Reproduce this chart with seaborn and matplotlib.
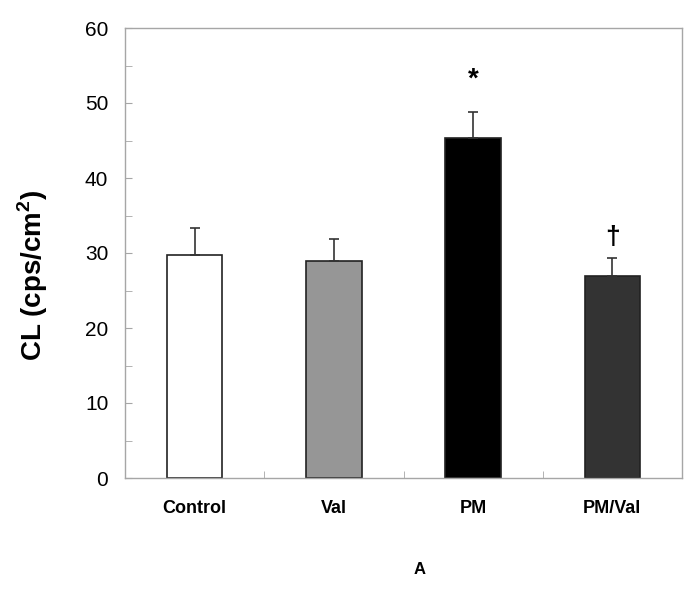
import matplotlib
matplotlib.use("Agg")
import matplotlib.pyplot as plt
from matplotlib.ticker import MultipleLocator
import numpy as np
import pandas as pd
import seaborn as sns

# values
groups = ["Control", "Val", "PM", "PM/Val"]
means = [29.7, 29.0, 45.4, 27.0]
sem = [3.7, 2.9, 3.4, 2.3]
marks = ["", "", "*", "\u2020"]
colors = ["#ffffff", "#969696", "#000000", "#333333"]

sns.set_style("white")
plt.rcParams["font.family"] = ["Liberation Sans", "DejaVu Sans"]
plt.rcParams["text.color"] = "black"
plt.rcParams["axes.labelcolor"] = "black"
plt.rcParams["mathtext.fontset"] = "custom"
plt.rcParams["mathtext.rm"] = "Liberation Sans"
plt.rcParams["mathtext.bf"] = "Liberation Sans:bold"

df = pd.DataFrame({"group": groups, "CL": means})

fig = plt.figure(figsize=(6.96, 5.97), dpi=100)
ax = fig.add_axes([125 / 696, 1 - 478 / 597, 557 / 696, 450 / 597])

sns.barplot(data=df, x="group", y="CL", hue="group", palette=colors,
            width=0.4, edgecolor="#222222", linewidth=1.2, errorbar=None,
            legend=False, ax=ax)

# upward error bars only
x = np.arange(len(groups))
ax.errorbar(x, means, yerr=[np.zeros(len(sem)), sem], fmt="none",
            ecolor="#333333", elinewidth=1.2, capsize=3.5, capthick=1.2)

for i, m in enumerate(marks):
    if m == "*":
        ax.text(x[i], means[i] + sem[i] + 2.6, m, ha="center", va="bottom",
                fontsize=20, fontweight="bold")
    elif m:
        ax.text(x[i], means[i] + sem[i] + 1.2, m, ha="center", va="bottom",
                fontsize=19, fontweight="bold")

ax.set_ylim(0, 60)
ax.set_xlim(-0.5, 3.5)
ax.yaxis.set_major_locator(MultipleLocator(10))
ax.yaxis.set_minor_locator(MultipleLocator(5))
ax.set_xticks(np.arange(-0.5, 3.6, 1.0), minor=True)

for s in ax.spines.values():
    s.set_color("#a6a6a6")
    s.set_linewidth(1.0)

ax.tick_params(axis="y", which="both", direction="in", length=5,
               color="#a6a6a6", labelcolor="black", labelsize=15, pad=12,
               left=True)
ax.tick_params(axis="x", which="major", length=0, labelsize=13,
               labelcolor="black", pad=16)
ax.tick_params(axis="x", which="minor", direction="in", length=5,
               color="#a6a6a6", bottom=True)
for lab in ax.get_xticklabels():
    lab.set_fontweight("bold")

ax.set_xlabel("")
ax.set_ylabel(r"CL (cps/cm$^{\mathbf{2}}$)", fontsize=20, fontweight="bold")
ax.yaxis.set_label_coords(-0.135, 0.45)

fig.text(420 / 696, 1 - 570 / 597, "A", ha="center", va="center",
         fontsize=12, fontweight="bold")

fig.savefig("out.png", dpi=100)
